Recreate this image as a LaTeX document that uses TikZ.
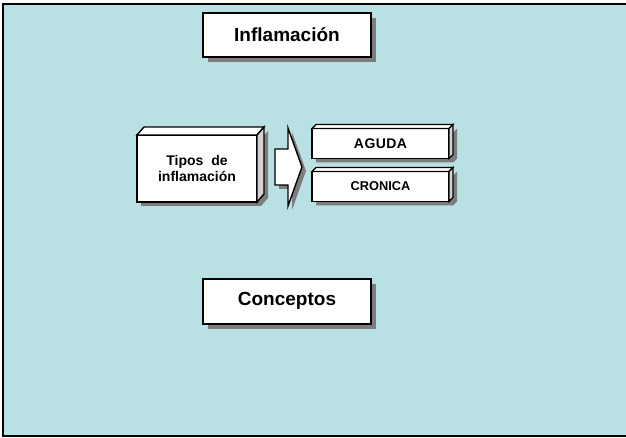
\documentclass[tikz,border=0pt]{standalone}
\usepackage{fontspec}
\setmainfont{Liberation Sans}
\usetikzlibrary{calc,backgrounds}
\definecolor{fondo}{RGB}{185,224,227}
\definecolor{sombra}{RGB}{125,125,125}
\definecolor{lado}{RGB}{210,210,210}

\begin{document}
\begin{tikzpicture}[x=1pt,y=-1pt,
    caja/.style={draw=black, fill=white, line width=2pt, inner sep=0pt, outer sep=0pt,
      minimum width=168pt, minimum height=44pt, font=\bfseries\fontsize{19}{22}\selectfont},
    bloque/.style={draw=black, fill=white, line width=1.4pt, inner sep=0pt, outer sep=0pt, align=center},
    cara/.style={draw=black, line width=1.4pt, line join=miter},
    sombra/.style={fill=sombra, draw=none}]
  \useasboundingbox (0,0) rectangle (626,438);

  % titulos
  \node[caja] (titulo) at (287,35) {Inflamación};
  \node[caja, minimum height=45pt] (conceptos) at (287,301) {Conceptos};

  % caja de tipos
  \node[bloque, minimum width=120pt, minimum height=67pt,
    font=\bfseries\fontsize{14}{16}\selectfont] (tipos) at (197,168.5) {Tipos~ de\\inflamación};
  \draw[cara, fill=white] (tipos.north west) -- ++(7,-8) -- ++(120,0) -- (tipos.north east) -- cycle;
  \draw[cara, fill=lado] (tipos.north east) -- ++(7,-8) -- ++(0,67) -- (tipos.south east) -- cycle;

  % flecha
  \coordinate (f) at (275,167);
  \draw[line width=1.4pt, fill=white, line join=miter]
    (f) ++(0,-18) -- ++(13,0) -- ++(0,-21) -- (302,167) -- (288,206) -- ++(0,-21) -- ++(-13,0) -- cycle;

  % tipos
  \node[bloque, minimum width=137pt, minimum height=30pt,
    font=\bfseries\fontsize{14}{16}\selectfont\addfontfeature{LetterSpace=3}] (aguda) at (380.5,143.5) {AGUDA};
  \node[bloque, minimum width=137pt, minimum height=30pt,
    font=\bfseries\fontsize{12.8}{15}\selectfont] (cronica) at (380.5,186.5) {CRONICA};
  \foreach \n in {aguda,cronica}{
    \draw[cara, fill=white] (\n.north west) -- ++(4,-4) -- ++(137,0) -- (\n.north east) -- cycle;
    \draw[cara, fill=lado] (\n.north east) -- ++(4,-4) -- ++(0,30) -- (\n.south east) -- cycle;
  }

  \begin{scope}[on background layer]
    \fill[fondo] (3,4) rectangle (626,436);
    \draw[line width=2pt] (626,4) -- (3,4) -- (3,436) -- (626,436);
    \fill[sombra] ($(titulo.north west)+(5,5)$) rectangle ($(titulo.south east)+(5,5)$);
    \fill[sombra] ($(conceptos.north west)+(5,5)$) rectangle ($(conceptos.south east)+(5,5)$);
    \fill[sombra] ($(tipos.south west)+(4,4)$) -- ($(tipos.south east)+(4,4)$) -- ($(tipos.south east)+(11,-4)$)
      -- ($(tipos.north east)+(11,-4)$) -- ($(tipos.north east)+(4,4)$) -- ($(tipos.north west)+(4,4)$) -- cycle;
    \fill[sombra] ($(f)+(4,-14)$) -- ++(13,0) -- ++(0,-21) -- ($(302,167)+(4,4)$) -- ($(288,206)+(4,4)$)
      -- ++(0,-21) -- ++(-13,0) -- cycle;
    \foreach \n in {aguda,cronica}{
      \fill[sombra] ($(\n.south west)+(4,4)$) -- ($(\n.south east)+(4,4)$) -- ($(\n.south east)+(8,0)$)
        -- ($(\n.north east)+(8,0)$) -- ($(\n.north east)+(4,4)$) -- ($(\n.north west)+(4,4)$) -- cycle;
    }
  \end{scope}
\end{tikzpicture}
\end{document}
